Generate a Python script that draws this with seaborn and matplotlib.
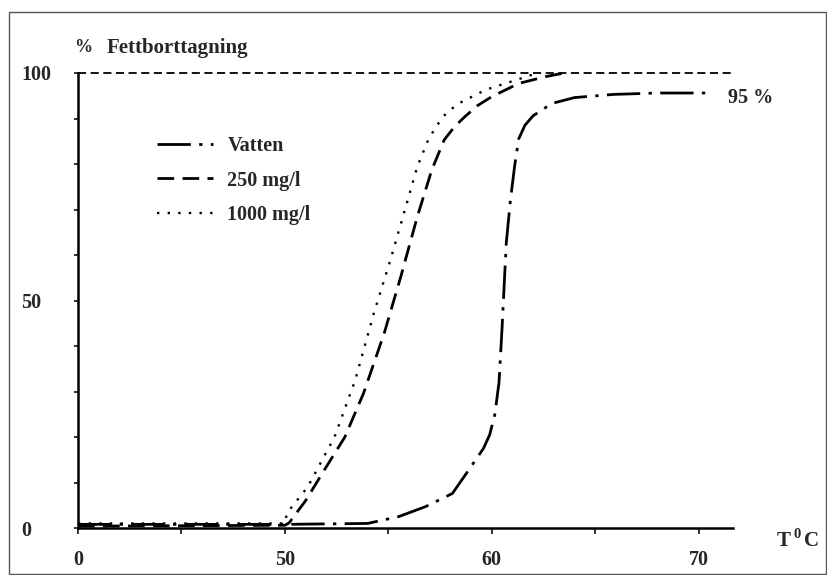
import numpy as np
import pandas as pd
import matplotlib
matplotlib.use("Agg")
import matplotlib.pyplot as plt
import seaborn as sns
from matplotlib.patches import Rectangle

# temperature (T, deg C) and fat removal (%)
vatten_T = [0, 50, 54, 55.5, 56.8, 58.1, 59.0, 59.6, 59.9, 60.15, 60.35, 60.5, 60.7, 60.9, 61.1, 61.3, 61.6, 62.0, 62.9, 64.0, 65.9, 68.0, 70.4]
vatten_P = [0.8, 0.8, 1.0, 2.5, 4.7, 7.6, 13.5, 17.5, 20.5, 25, 32, 44.2, 62.6, 72, 79.4, 85.5, 88.5, 90.6, 93.3, 94.6, 95.3, 95.6, 95.6]

mg250_T = [0, 50, 50.2, 51.0, 51.9, 52.9, 53.8, 54.8, 55.6, 56.4, 57.1, 57.7, 58.2, 58.7, 59.3, 60.0, 61.3, 62.6, 63.5]
mg250_P = [0.4, 0.6, 1.1, 6, 12.7, 20, 29.6, 42.8, 55.2, 68.4, 78.7, 85.3, 88.2, 90.4, 92.8, 94.8, 97.7, 99.2, 100]

mg1000_T = [0, 50, 50.1, 51.1, 52.4, 53.4, 54.3, 55.1, 55.8, 56.4, 56.9, 57.3, 57.8, 58.4, 59.7, 61.2, 62.2]
mg1000_P = [1.0, 1.0, 3.3, 9, 20, 32.5, 47.2, 58.9, 69.9, 79.4, 85, 88.2, 91.2, 93.3, 96.3, 98.5, 100]

labels = ["Vatten", "250 mg/l", "1000 mg/l"]
x_ticks = [0, 25, 50, 55, 60, 65, 70]
x_ticklabels = ["0", "", "50", "", "60", "", "70"]
y_ticks = list(range(0, 101, 10))
y_ticklabels = ["0", "", "", "", "", "50", "", "", "", "", "100"]


# broken x axis: 0-50 squeezed into the room of 10 degrees
def fwd(t):
    t = np.asarray(t, dtype=float)
    return np.where(t < 50, 40 + t / 5.0, t)


def inv(d):
    d = np.asarray(d, dtype=float)
    return np.where(d < 50, (d - 40) * 5.0, d)


sns.set_style("white")
plt.rcParams["font.family"] = ["Liberation Serif", "DejaVu Serif"]
plt.rcParams["font.weight"] = "bold"

fig = plt.figure(figsize=(8.27, 5.75), dpi=100)
ax = fig.add_axes([78 / 827, 47 / 575, 655 / 827, 455 / 575])

df_v = pd.DataFrame({"T": vatten_T, "P": vatten_P})
df_250 = pd.DataFrame({"T": mg250_T, "P": mg250_P})
df_1000 = pd.DataFrame({"T": mg1000_T, "P": mg1000_P})

sns.lineplot(data=df_v, x="T", y="P", ax=ax, color="black", lw=2.0,
             sort=False, label=labels[0], dashes=False)
sns.lineplot(data=df_250, x="T", y="P", ax=ax, color="black", lw=2.0,
             sort=False, label=labels[1], dashes=False)
sns.lineplot(data=df_1000, x="T", y="P", ax=ax, color="black", lw=1.7,
             sort=False, label=labels[2], dashes=False)

lines = ax.get_lines()
lines[0].set_dashes((12, 3, 1.2, 3))
lines[1].set_dashes((6, 3))
lines[2].set_dashes((1, 3.5))
for ln in lines:
    ln.set_clip_on(False)
    ln.set_solid_capstyle("round")

ax.axhline(100, color="black", lw=1.3, dashes=(4.5, 2.5), clip_on=False)

ax.set_xscale("function", functions=(fwd, inv))
ax.set_xlim(0, 71.66)
ax.set_ylim(0, 100)

ax.set_xticks(x_ticks, x_ticklabels)
ax.set_yticks(y_ticks, y_ticklabels)
ax.tick_params(axis="x", direction="out", length=4, width=1.3, pad=12,
               labelsize=14.5, bottom=True)
ax.tick_params(axis="y", direction="out", length=3, width=1.3, pad=38,
               labelsize=14.5, left=True)
for lab in ax.get_yticklabels():
    lab.set_horizontalalignment("left")
    lab.set_y(lab.get_position()[1])

sns.despine(ax=ax)
for s in ["left", "bottom"]:
    ax.spines[s].set_linewidth(1.8)
    ax.spines[s].set_color("black")

ax.set_xlabel("")
ax.set_ylabel("")

leg = ax.legend(loc="upper left", bbox_to_anchor=(157 / 827, 1 - 136 / 575),
                bbox_transform=fig.transFigure, frameon=False, fontsize=14.5,
                handlelength=2.8, handletextpad=0.7, labelspacing=0.72,
                borderpad=0, borderaxespad=0)

fig.text(74 / 827, 1 - 48 / 575, "%", fontsize=13, va="center", ha="left")
fig.text(107 / 827, 1 - 48 / 575, "Fettborttagning", fontsize=15,
         va="center", ha="left")
fig.text(728 / 827, 1 - 98 / 575, "95 %", fontsize=14.5, va="center", ha="left")
fig.text(777 / 827, 1 - 541 / 575, "T", fontsize=15, va="center", ha="left")
fig.text(793 / 827, 1 - 534 / 575, "0", fontsize=10.5, va="center", ha="left")
fig.text(804 / 827, 1 - 541 / 575, "C", fontsize=15, va="center", ha="left")

fig.patches.append(Rectangle((9 / 827, 1 / 575), 817 / 827, 1 - 13 / 575,
                             transform=fig.transFigure, fill=False,
                             edgecolor="#555555", lw=1))

fig.savefig("out.png", dpi=100)
